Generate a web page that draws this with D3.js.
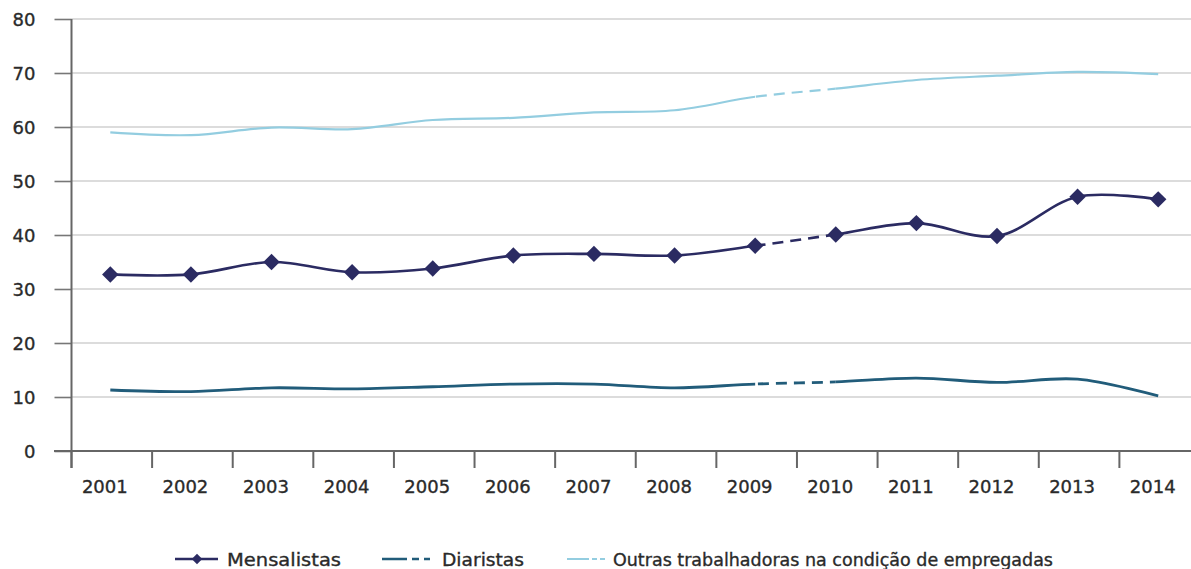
<!DOCTYPE html>
<html>
<head>
<meta charset="utf-8">
<script src="https://cdn.jsdelivr.net/npm/d3@7"></script>
<style>
  html, body { margin: 0; padding: 0; background: #fff; }
  svg { display: block; }
  text { font-family: "DejaVu Sans", sans-serif; fill: #2a2a2a; stroke: #2a2a2a; stroke-width: 0.35px; }
</style>
</head>
<body>
<svg id="chart" width="1191" height="569"></svg>
<script>
const years = ['2001','2002','2003','2004','2005','2006','2007','2008','2009','2010','2011','2012','2013','2014'];
const mensalistas = [32.7, 32.7, 35.0, 33.1, 33.8, 36.2, 36.5, 36.2, 38.0, 40.1, 42.2, 39.8, 47.1, 46.6];
const diaristas   = [11.3, 11.0, 11.7, 11.5, 11.9, 12.4, 12.4, 11.7, 12.4, 12.8, 13.5, 12.7, 13.3, 10.2];
const outras      = [59.0, 58.5, 59.9, 59.6, 61.3, 61.7, 62.7, 63.1, 65.6, 67.1, 68.7, 69.5, 70.2, 69.8];
const yTicks = [0, 10, 20, 30, 40, 50, 60, 70, 80];
const dashedFrom = '2009', dashedTo = '2010';
const seriesNames = ['Mensalistas', 'Diaristas', 'Outras trabalhadoras na condição de empregadas'];

const W = 1191, H = 569;
const svg = d3.select('#chart');

const x = d3.scaleBand().domain(years).range([71.5, 1200]).padding(0);
const y = d3.scaleLinear().domain([0, 80]).range([451, 19]);
const cx = yr => x(yr) + x.bandwidth() / 2 - 1.5;

// gridlines
svg.append('g').selectAll('line').data(yTicks.filter(v => v > 0)).join('line')
  .attr('x1', 71.5).attr('x2', W).attr('y1', d => y(d)).attr('y2', d => y(d))
  .attr('stroke', '#dcdcdc').attr('stroke-width', 2);

// y axis
const yAxis = d3.axisLeft(y).tickValues(yTicks).tickSize(17).tickPadding(19).tickFormat(d3.format('d'));
const gy = svg.append('g').attr('transform', 'translate(71.5,0)').call(yAxis);
gy.select('.domain').remove();
gy.selectAll('.tick line').attr('stroke', '#777').attr('stroke-width', 1.6);
gy.selectAll('.tick text').attr('font-size', 18).attr('fill', '#2a2a2a')
  .attr('font-family', '"DejaVu Sans", sans-serif').attr('dy', '0.38em');
svg.append('line').attr('x1', 71.5).attr('x2', 71.5).attr('y1', y(80)).attr('y2', 468)
  .attr('stroke', '#666').attr('stroke-width', 2);

// x axis
svg.append('line').attr('x1', 54).attr('x2', W).attr('y1', y(0)).attr('y2', y(0))
  .attr('stroke', '#666').attr('stroke-width', 2);
const bounds = years.map(d => x(d)).concat([x(years[years.length - 1]) + x.bandwidth()]);
svg.append('g').selectAll('line').data(bounds).join('line')
  .attr('x1', d => d).attr('x2', d => d).attr('y1', y(0)).attr('y2', 468)
  .attr('stroke', '#666').attr('stroke-width', 2);
svg.append('g').selectAll('text').data(years).join('text')
  .attr('x', d => x(d) + x.bandwidth() / 2 - 7).attr('y', 493).attr('text-anchor', 'middle')
  .attr('font-size', 18).text(d => d);

// clips for solid / dashed parts
const xa = cx(dashedFrom), xb = cx(dashedTo);
const defs = svg.append('defs');
defs.append('clipPath').attr('id', 'solidClip').selectAll('rect')
  .data([[0, xa], [xb, W]]).join('rect')
  .attr('x', d => d[0]).attr('width', d => d[1] - d[0]).attr('y', 0).attr('height', H);
defs.append('clipPath').attr('id', 'dashClip').append('rect')
  .attr('x', xa).attr('width', xb - xa).attr('y', 0).attr('height', H);

const line = d3.line().x((d, i) => cx(years[i])).y(d => y(d)).curve(d3.curveCatmullRom.alpha(0.5));

function drawSeries(vals, color, width, dash) {
  const g = svg.append('g');
  g.append('path').attr('d', line(vals)).attr('fill', 'none').attr('stroke', color)
    .attr('stroke-width', width).attr('clip-path', 'url(#solidClip)');
  g.append('path').attr('d', line(vals)).attr('fill', 'none').attr('stroke', color)
    .attr('stroke-width', width).attr('stroke-dasharray', dash).attr('clip-path', 'url(#dashClip)');
  return g;
}

const cOutras = '#93cde0', cDiar = '#215c7a', cMens = '#2b2b62';
drawSeries(outras, cOutras, 2.2, '11,7');
drawSeries(diaristas, cDiar, 2.8, '11,7');
drawSeries(mensalistas, cMens, 2.6, '11,7');

const diamond = d3.symbol().type(d3.symbolSquare).size(135);
svg.append('g').selectAll('path').data(mensalistas).join('path')
  .attr('d', diamond)
  .attr('transform', (d, i) => `translate(${cx(years[i])},${y(d)}) rotate(45)`)
  .attr('fill', cMens);

// legend
const leg = svg.append('g');
const ly = 559;
leg.append('line').attr('x1', 175).attr('x2', 218).attr('y1', ly).attr('y2', ly)
  .attr('stroke', cMens).attr('stroke-width', 2.5);
leg.append('path').attr('d', d3.symbol().type(d3.symbolSquare).size(55))
  .attr('transform', `translate(197,${ly}) rotate(45)`).attr('fill', cMens);
leg.append('text').attr('x', 227).attr('y', 566).attr('font-size', 18)
  .attr('textLength', 114).attr('lengthAdjust', 'spacingAndGlyphs').text(seriesNames[0]);

leg.append('line').attr('x1', 382).attr('x2', 430).attr('y1', ly).attr('y2', ly)
  .attr('stroke', cDiar).attr('stroke-width', 2.5).attr('stroke-dasharray', '25,5,7,5,7');
leg.append('text').attr('x', 442).attr('y', 566).attr('font-size', 18)
  .attr('textLength', 82).attr('lengthAdjust', 'spacingAndGlyphs').text(seriesNames[1]);

leg.append('line').attr('x1', 567).attr('x2', 605).attr('y1', ly).attr('y2', ly)
  .attr('stroke', cOutras).attr('stroke-width', 2).attr('stroke-dasharray', '22,3,5,3,5');
leg.append('text').attr('x', 613).attr('y', 566).attr('font-size', 18)
  .attr('textLength', 440).attr('lengthAdjust', 'spacingAndGlyphs').text(seriesNames[2]);
</script>
</body>
</html>
